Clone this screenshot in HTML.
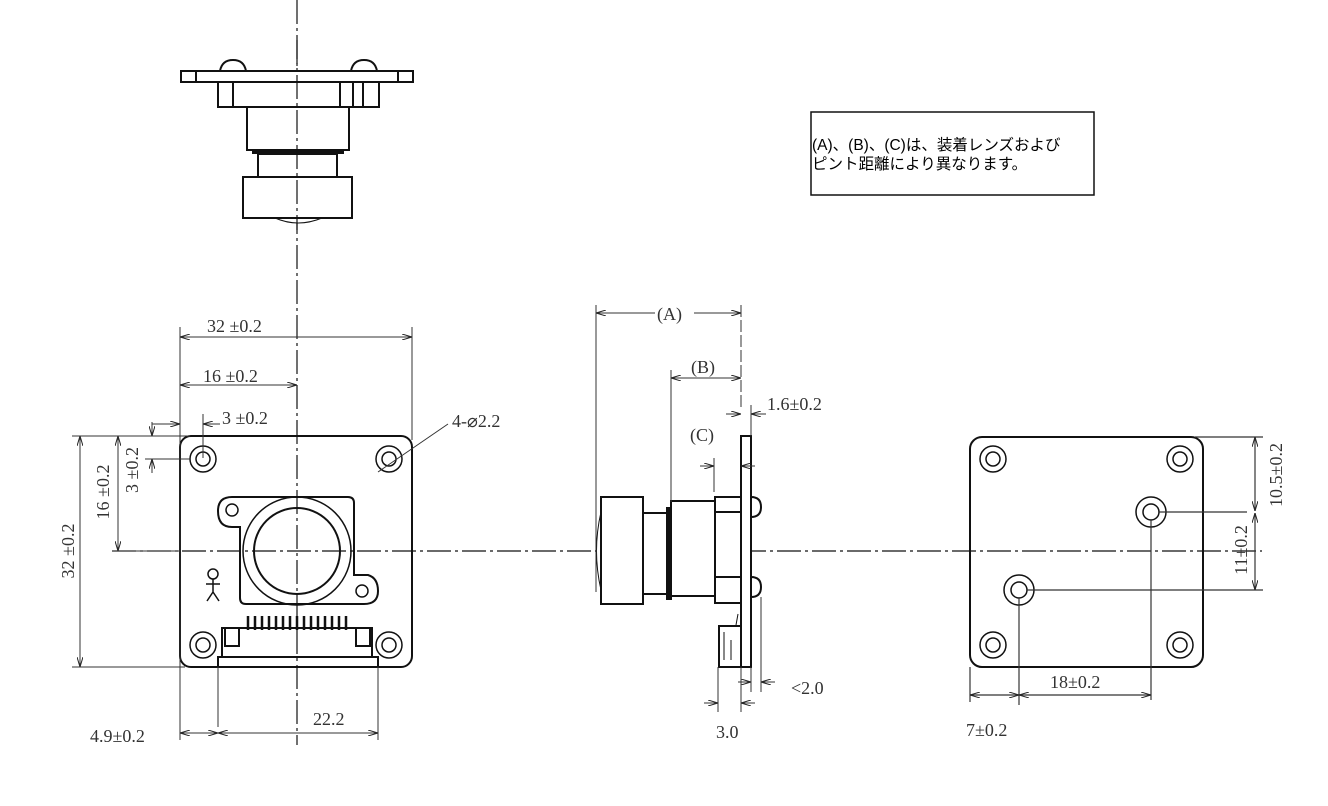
<!DOCTYPE html>
<html><head><meta charset="utf-8"><style>
html,body{margin:0;padding:0;background:#fff;}
svg{display:block;}
text{font-family:"Liberation Serif","Noto Serif CJK SC",serif;font-size:18px;fill:#333;}
.jp{font-family:"Liberation Sans","Noto Sans CJK JP",sans-serif;font-size:15.5px;fill:#000;}
</style></head><body>
<svg width="1328" height="806" viewBox="0 0 1328 806" xmlns="http://www.w3.org/2000/svg">
<defs>
<marker id="a" viewBox="0 0 10 6" refX="10" refY="3" markerWidth="10" markerHeight="6" orient="auto-start-reverse" markerUnits="userSpaceOnUse"><path d="M0,0 L10,3 L0,6" fill="none" stroke="#222" stroke-width="1"/></marker>
</defs>
<g fill="none" stroke="#111" stroke-width="1.2">
<line x1="297" y1="0" x2="297" y2="745" stroke-dasharray="24,4,3,4"/>
<line x1="112" y1="551" x2="1262" y2="551" stroke-dasharray="24,4,3,4"/>
</g>
<!-- TOP VIEW -->
<g fill="#fff" stroke="#111" stroke-width="2">
<path d="M220,71 Q222,60 233,60 Q244,60 246,71Z"/>
<path d="M351,71 Q353,60 364,60 Q375,60 377,71Z"/>
<rect x="181" y="71" width="232" height="11"/>
<line x1="196" y1="71" x2="196" y2="82"/><line x1="398" y1="71" x2="398" y2="82"/>
<rect x="218" y="82" width="161" height="25"/>
<line x1="233" y1="82" x2="233" y2="107"/><line x1="340" y1="82" x2="340" y2="107"/><line x1="353" y1="82" x2="353" y2="107"/><line x1="363" y1="82" x2="363" y2="107"/>
<rect x="247" y="107" width="102" height="43"/>
<rect x="253" y="150" width="90" height="3" fill="#111"/>
<rect x="258" y="154" width="79" height="23"/>
<path d="M275,218 Q298,228 322,218" stroke-width="1"/>
<rect x="243" y="177" width="109" height="41"/>
</g>
<line x1="297" y1="40" x2="297" y2="230" stroke="#111" stroke-width="1.2" stroke-dasharray="24,4,3,4"/>
<!-- NOTE BOX -->
<rect x="811" y="112" width="283" height="83" fill="#fff" stroke="#111" stroke-width="1.5"/>
<text class="jp" x="812" y="150">(A)、(B)、(C)は、装着レンズおよび</text>
<text class="jp" x="812" y="169">ピント距離により異なります。</text>
<!-- FRONT VIEW -->
<g fill="none" stroke="#111" stroke-width="2">
<rect x="180" y="436" width="232" height="231" rx="11"/>
<g stroke-width="1.5"><circle cx="203" cy="459" r="13"/><circle cx="203" cy="459" r="7"/>
<circle cx="389" cy="459" r="13"/><circle cx="389" cy="459" r="7"/>
<circle cx="203" cy="645" r="13"/><circle cx="203" cy="645" r="7"/>
<circle cx="389" cy="645" r="13"/><circle cx="389" cy="645" r="7"/></g>
<path d="M245,497 L348,497 Q354,497 354,503 L354,575 L368,575 Q378,578 378,591 Q378,604 364,604 L246,604 Q240,604 240,598 L240,527 L232,527 Q218,527 218,511 Q218,497 232,497Z"/>
<circle cx="232" cy="510" r="6" stroke-width="1.5"/><circle cx="362" cy="591" r="6" stroke-width="1.5"/>
<circle cx="297" cy="551" r="54" stroke-width="1.5"/><circle cx="297" cy="551" r="43"/>
<circle cx="213" cy="574" r="5" stroke-width="1.5"/>
<path d="M213,579 L213,592 M206,584 L220,584 M213,592 L207,601 M213,592 L219,601" stroke-width="1.5"/>
<rect x="218" y="657" width="160" height="10"/>
<path d="M222,657 L222,628 L372,628 L372,657"/>
<rect x="225" y="628" width="14" height="18"/><rect x="356" y="628" width="14" height="18"/>
</g>
<g stroke="#111" stroke-width="2.5">
<path d="M248,616v14M255,616v14M262,616v14M269,616v14M276,616v14M283,616v14M290,616v14M297,616v14M304,616v14M311,616v14M318,616v14M325,616v14M332,616v14M339,616v14M346,616v14"/>
</g>
<!-- front dims -->
<g fill="none" stroke="#333" stroke-width="1">
<line x1="180" y1="327" x2="180" y2="740"/>
<line x1="412" y1="327" x2="412" y2="440"/>
<line x1="180" y1="337" x2="412" y2="337" marker-start="url(#a)" marker-end="url(#a)"/>
<line x1="180" y1="385" x2="297" y2="385" marker-start="url(#a)" marker-end="url(#a)"/>
<line x1="203" y1="414" x2="203" y2="458"/>
<line x1="152" y1="424" x2="180" y2="424" marker-end="url(#a)"/>
<line x1="220" y1="424" x2="203" y2="424" marker-end="url(#a)"/>
<line x1="378" y1="472" x2="448" y2="424"/>
<line x1="72" y1="436" x2="190" y2="436"/>
<line x1="72" y1="667" x2="185" y2="667"/>
<line x1="112" y1="551" x2="180" y2="551"/>
<line x1="145" y1="459" x2="190" y2="459"/>
<line x1="80" y1="436" x2="80" y2="667" marker-start="url(#a)" marker-end="url(#a)"/>
<line x1="118" y1="436" x2="118" y2="551" marker-start="url(#a)" marker-end="url(#a)"/>
<line x1="152" y1="422" x2="152" y2="436" marker-end="url(#a)"/>
<line x1="152" y1="473" x2="152" y2="459" marker-end="url(#a)"/>
<line x1="218" y1="667" x2="218" y2="727"/>
<line x1="378" y1="667" x2="378" y2="740"/>
<line x1="180" y1="733" x2="218" y2="733" marker-start="url(#a)" marker-end="url(#a)"/>
<line x1="218" y1="733" x2="378" y2="733" marker-start="url(#a)" marker-end="url(#a)"/>
</g>
<text x="207" y="332">32 ±0.2</text>
<text x="203" y="382">16 ±0.2</text>
<text x="222" y="424">3 ±0.2</text>
<text x="452" y="427">4-⌀2.2</text>
<text transform="translate(74,551) rotate(-90)" text-anchor="middle">32 ±0.2</text>
<text transform="translate(109,492) rotate(-90)" text-anchor="middle">16 ±0.2</text>
<text transform="translate(138,470) rotate(-90)" text-anchor="middle">3 ±0.2</text>
<text x="90" y="742">4.9±0.2</text>
<text x="313" y="725">22.2</text>
<!-- SIDE VIEW -->
<g fill="#fff" stroke="#111" stroke-width="2">
<path d="M601,512 Q592,551 601,590" stroke-width="1"/>
<rect x="601" y="497" width="42" height="107"/>
<rect x="643" y="513" width="24" height="81"/>
<rect x="667" y="508" width="4" height="91" fill="#111"/>
<rect x="671" y="501" width="44" height="95"/>
<rect x="715" y="497" width="26" height="106"/>
<line x1="715" y1="512" x2="741" y2="512"/><line x1="715" y1="577" x2="741" y2="577"/>
<path d="M751,497 Q761,497 761,507 Q761,517 751,517Z"/>
<path d="M751,577 Q761,577 761,587 Q761,597 751,597Z"/>
<rect x="741" y="436" width="10" height="231"/>
<rect x="719" y="626" width="22" height="41"/>
<path d="M724,632 L724,660 M731,640 L731,660 M736,625 L738,614" stroke-width="1"/>
</g>
<g fill="none" stroke="#333" stroke-width="1">
<line x1="596" y1="305" x2="596" y2="592"/>
<line x1="741" y1="305" x2="741" y2="410" stroke-dasharray="12,3"/>
<line x1="671" y1="370" x2="671" y2="502"/>
<line x1="751" y1="405" x2="751" y2="436"/>
<line x1="596" y1="313" x2="655" y2="313" marker-start="url(#a)"/>
<line x1="694" y1="313" x2="741" y2="313" marker-end="url(#a)"/>
<line x1="671" y1="378" x2="741" y2="378" marker-start="url(#a)" marker-end="url(#a)"/>
<line x1="726" y1="414" x2="741" y2="414" marker-end="url(#a)"/>
<line x1="766" y1="414" x2="751" y2="414" marker-end="url(#a)"/>
<line x1="714" y1="458" x2="714" y2="492"/>
<line x1="700" y1="466" x2="714" y2="466" marker-end="url(#a)"/>
<line x1="755" y1="466" x2="741" y2="466" marker-end="url(#a)"/>
<line x1="761" y1="597" x2="761" y2="692"/>
<line x1="741" y1="667" x2="741" y2="712"/>
<line x1="751" y1="667" x2="751" y2="692"/>
<line x1="718" y1="667" x2="718" y2="712"/>
<line x1="738" y1="682" x2="751" y2="682" marker-end="url(#a)"/>
<line x1="775" y1="682" x2="761" y2="682" marker-end="url(#a)"/>
<line x1="704" y1="703" x2="718" y2="703" marker-end="url(#a)"/>
<line x1="755" y1="703" x2="741" y2="703" marker-end="url(#a)"/>
</g>
<text x="657" y="320">(A)</text>
<text x="691" y="373">(B)</text>
<text x="767" y="410">1.6±0.2</text>
<text x="690" y="441">(C)</text>
<text x="791" y="694">&lt;2.0</text>
<text x="716" y="738">3.0</text>
<!-- BACK VIEW -->
<g fill="none" stroke="#111" stroke-width="1.5">
<rect x="970" y="437" width="233" height="230" rx="12" stroke-width="2"/>
<circle cx="993" cy="459" r="13"/><circle cx="993" cy="459" r="7"/>
<circle cx="1180" cy="459" r="13"/><circle cx="1180" cy="459" r="7"/>
<circle cx="993" cy="645" r="13"/><circle cx="993" cy="645" r="7"/>
<circle cx="1180" cy="645" r="13"/><circle cx="1180" cy="645" r="7"/>
<circle cx="1151" cy="512" r="15"/><circle cx="1151" cy="512" r="8"/>
<circle cx="1019" cy="590" r="15"/><circle cx="1019" cy="590" r="8"/>
</g>
<g fill="none" stroke="#333" stroke-width="1.2">
<line x1="1159" y1="512" x2="1247" y2="512"/>
<line x1="1151" y1="520" x2="1151" y2="700"/>
<line x1="1027" y1="590" x2="1263" y2="590"/>
<line x1="1019" y1="598" x2="1019" y2="705"/>
<line x1="970" y1="667" x2="970" y2="702"/>
<line x1="1195" y1="437" x2="1263" y2="437"/>
<line x1="1255" y1="437" x2="1255" y2="511" marker-start="url(#a)" marker-end="url(#a)"/>
<line x1="1255" y1="513" x2="1255" y2="590" marker-start="url(#a)" marker-end="url(#a)"/>
<line x1="970" y1="695" x2="1019" y2="695" marker-start="url(#a)" marker-end="url(#a)"/>
<line x1="1019" y1="695" x2="1151" y2="695" marker-start="url(#a)" marker-end="url(#a)"/>
</g>
<text transform="translate(1282,475) rotate(-90)" text-anchor="middle">10.5±0.2</text>
<text transform="translate(1247,550) rotate(-90)" text-anchor="middle">11±0.2</text>
<text x="1050" y="688">18±0.2</text>
<text x="966" y="736">7±0.2</text>
</svg>
</body></html>
